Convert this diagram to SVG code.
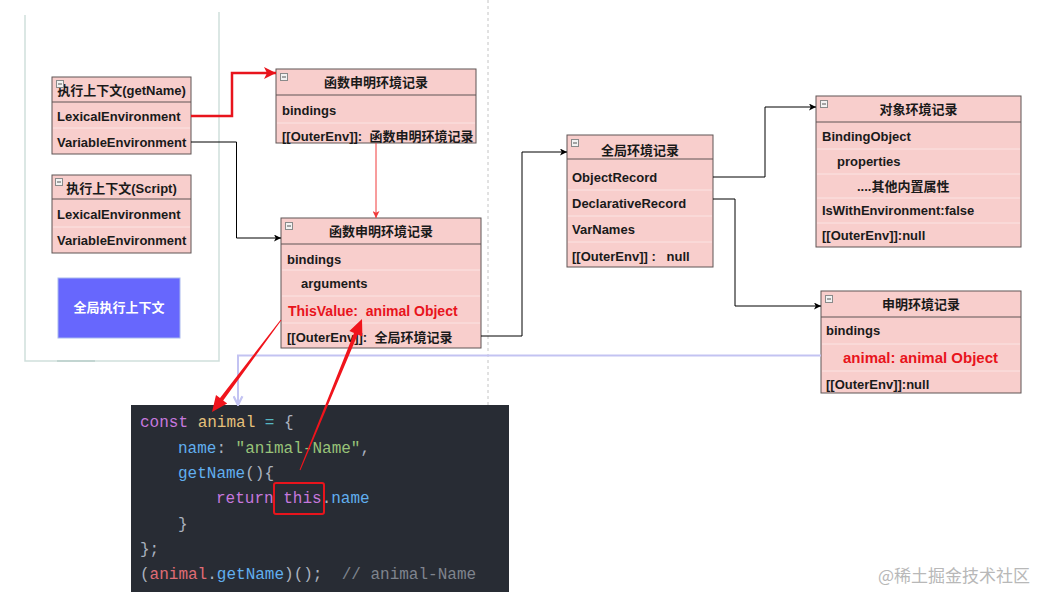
<svg xmlns="http://www.w3.org/2000/svg" width="1037" height="592" viewBox="0 0 1037 592">
<style>
.box{fill:#f8cecc;stroke:#5f5555;stroke-width:1}
.hl{stroke:#5f5555;stroke-width:1}
.sep{stroke:#fbe4e3;stroke-width:1}
.t{font-family:"Liberation Sans","Noto Sans CJK SC",sans-serif;font-size:13px;font-weight:bold;fill:#1a1a1a}
.h{text-anchor:middle}
.red{fill:#e8141c}
.ico{fill:#f2f2f2;stroke:#8a8a8a;stroke-width:1}
.icm{stroke:#555;stroke-width:1}
.code{font-family:"Liberation Mono","DejaVu Sans Mono",monospace;font-size:16px;fill:#abb2bf}
.kw{fill:#c678dd}.vr{fill:#e5c07b}.op{fill:#56b6c2}.pr{fill:#61afef}.st{fill:#98c379}.rd{fill:#e06c75}.cm{fill:#7f848e}
.bl{fill:none;stroke:#000;stroke-width:1}
</style>
<defs>
<marker id="ab" viewBox="0 0 10 10" refX="10" refY="5" markerWidth="7" markerHeight="7" markerUnits="userSpaceOnUse" orient="auto"><path d="M0,0L10,5L0,10L2.5,5Z" fill="#000"/></marker>
<marker id="ar" viewBox="0 0 10 10" refX="10" refY="5" markerWidth="12" markerHeight="12" markerUnits="userSpaceOnUse" orient="auto"><path d="M0,0L10,5L0,10L2.5,5Z" fill="#e8141c"/></marker>
<marker id="ar2" viewBox="0 0 10 10" refX="10" refY="5" markerWidth="7" markerHeight="7" markerUnits="userSpaceOnUse" orient="auto"><path d="M0,0L10,5L0,10L2.5,5Z" fill="#f03a3a"/></marker>
<marker id="al" viewBox="0 0 10 10" refX="9" refY="5" markerWidth="11" markerHeight="11" markerUnits="userSpaceOnUse" orient="auto"><path d="M1,1L9,5L1,9" fill="none" stroke="#c3c3f2" stroke-width="2"/></marker>
</defs>
<rect width="1037" height="592" fill="#fff"/>
<line x1="488" y1="0" x2="488" y2="592" stroke="#c4c4c4" stroke-width="1" stroke-dasharray="3,3"/>
<path d="M25,15V361H219V12" fill="none" stroke="#cfdfdc" stroke-width="1.5"/>
<line x1="57" y1="361" x2="95" y2="361" stroke="#c2d5d1" stroke-width="2"/>

<g id="code">
<rect x="131" y="405" width="378" height="187" fill="#282c34"/>
<text class="code" x="140" y="427" xml:space="preserve"><tspan class="kw">const</tspan> <tspan class="vr">animal</tspan> <tspan class="op">=</tspan> {</text>
<text class="code" x="178" y="453" xml:space="preserve"><tspan class="pr">name</tspan>: <tspan class="st">"animal-Name"</tspan>,</text>
<text class="code" x="178" y="478" xml:space="preserve"><tspan class="pr">getName</tspan>(){</text>
<text class="code" x="216" y="503" xml:space="preserve"><tspan class="kw">return</tspan> <tspan class="kw">this</tspan>.<tspan class="pr">name</tspan></text>
<text class="code" x="178" y="529">}</text>
<text class="code" x="140" y="554">};</text>
<text class="code" x="140" y="579" xml:space="preserve">(<tspan class="rd">animal</tspan>.<tspan class="pr">getName</tspan>)();  <tspan class="cm">// animal-Name</tspan></text>
<rect x="274" y="483" width="50" height="31" rx="2" fill="none" stroke="#e8141c" stroke-width="2"/>
</g>

<g id="ec-getName">
<rect class="box" x="52" y="77" width="139" height="77"/>
<line class="hl" x1="52" y1="102" x2="191" y2="102"/>
<line class="sep" x1="53" y1="128" x2="190" y2="128"/>
<text class="t h" x="121.5" y="94.5">执行上下文(getName)</text>
<rect class="ico" x="56.5" y="80.5" width="7" height="7"/><line class="icm" x1="58" y1="84" x2="62" y2="84"/>
<text class="t" x="57" y="120.5">LexicalEnvironment</text>
<text class="t" x="57" y="146.5">VariableEnvironment</text>
</g>

<g id="ec-script">
<rect class="box" x="52" y="175" width="139" height="78"/>
<line class="hl" x1="52" y1="199" x2="191" y2="199"/>
<line class="sep" x1="53" y1="227" x2="190" y2="227"/>
<text class="t h" x="121.5" y="192.5">执行上下文(Script)</text>
<rect class="ico" x="55.5" y="178.5" width="7" height="7"/><line class="icm" x1="57" y1="182" x2="61" y2="182"/>
<text class="t" x="57" y="218.5">LexicalEnvironment</text>
<text class="t" x="57" y="244.5">VariableEnvironment</text>
</g>

<g id="global-ec">
<rect x="58" y="278" width="122" height="60" fill="#6767fd" stroke="#a9b9ee" stroke-width="1"/>
<text class="t h" x="119" y="311.5" style="fill:#fff">全局执行上下文</text>
</g>

<g id="fn-decl-record">
<rect class="box" x="276" y="69" width="200" height="74"/>
<line class="hl" x1="276" y1="95" x2="476" y2="95"/>
<line class="sep" x1="277" y1="123" x2="475" y2="123"/>
<rect class="ico" x="280.5" y="73.5" width="7" height="7"/><line class="icm" x1="282" y1="77" x2="286" y2="77"/>
<text class="t h" x="376" y="87">函数申明环境记录</text>
<text class="t" x="282" y="115">bindings</text>
<text class="t" x="282" y="140.5" xml:space="preserve">[[OuterEnv]]:  函数申明环境记录</text>
</g>

<g id="fn-env-record">
<rect class="box" x="281" y="218" width="200" height="130"/>
<line class="hl" x1="281" y1="244" x2="481" y2="244"/>
<line class="sep" x1="282" y1="270" x2="480" y2="270"/>
<line class="sep" x1="282" y1="296" x2="480" y2="296"/>
<line class="sep" x1="282" y1="323" x2="480" y2="323"/>
<rect class="ico" x="285.5" y="222.5" width="7" height="7"/><line class="icm" x1="287" y1="226" x2="291" y2="226"/>
<text class="t h" x="381" y="236">函数申明环境记录</text>
<text class="t" x="287" y="263.5">bindings</text>
<text class="t" x="301" y="288">arguments</text>
<text class="t red" x="288" y="316" style="font-size:14px" xml:space="preserve">ThisValue:  animal Object</text>
<text class="t" x="287" y="341.5" xml:space="preserve">[[OuterEnv]]:  全局环境记录</text>
</g>

<g id="global-env-record">
<rect class="box" x="567" y="135" width="146" height="132"/>
<line class="hl" x1="567" y1="159" x2="713" y2="159"/>
<line class="sep" x1="568" y1="190" x2="712" y2="190"/>
<line class="sep" x1="568" y1="216" x2="712" y2="216"/>
<line class="sep" x1="568" y1="242" x2="712" y2="242"/>
<rect class="ico" x="571.5" y="139.5" width="7" height="7"/><line class="icm" x1="573" y1="143" x2="577" y2="143"/>
<text class="t h" x="640" y="155">全局环境记录</text>
<text class="t" x="572" y="182">ObjectRecord</text>
<text class="t" x="572" y="208">DeclarativeRecord</text>
<text class="t" x="572" y="234">VarNames</text>
<text class="t" x="572" y="261" xml:space="preserve">[[OuterEnv]] :   null</text>
</g>

<g id="object-env-record">
<rect class="box" x="816" y="96" width="205" height="151"/>
<line class="hl" x1="816" y1="122" x2="1021" y2="122"/>
<line class="sep" x1="817" y1="149" x2="1020" y2="149"/>
<line class="sep" x1="817" y1="174" x2="1020" y2="174"/>
<line class="sep" x1="817" y1="198" x2="1020" y2="198"/>
<line class="sep" x1="817" y1="223" x2="1020" y2="223"/>
<rect class="ico" x="820.5" y="100.5" width="7" height="7"/><line class="icm" x1="822" y1="104" x2="826" y2="104"/>
<text class="t h" x="918.5" y="113.5">对象环境记录</text>
<text class="t" x="822" y="141">BindingObject</text>
<text class="t" x="837" y="165.5">properties</text>
<text class="t" x="857" y="190.5">....其他内置属性</text>
<text class="t" x="822" y="214.5">IsWithEnvironment:false</text>
<text class="t" x="822" y="240">[[OuterEnv]]:null</text>
</g>

<g id="declarative-env-record">
<rect class="box" x="821" y="291" width="200" height="102"/>
<line class="hl" x1="821" y1="317" x2="1021" y2="317"/>
<line class="sep" x1="822" y1="344" x2="1020" y2="344"/>
<line class="sep" x1="822" y1="371" x2="1020" y2="371"/>
<rect class="ico" x="825.5" y="295.5" width="7" height="7"/><line class="icm" x1="827" y1="299" x2="831" y2="299"/>
<text class="t h" x="921" y="308.5">申明环境记录</text>
<text class="t" x="826" y="335">bindings</text>
<text class="t red" x="843" y="363" style="font-size:15px">animal: animal Object</text>
<text class="t" x="826" y="388.5">[[OuterEnv]]:null</text>
</g>

<g id="connectors">
<path d="M191,116H232V73H276" fill="none" stroke="#e8141c" stroke-width="2.5" marker-end="url(#ar)"/>
<path class="bl" d="M191,142H236.5V238H281" marker-end="url(#ab)"/>
<path d="M376,143V218" fill="none" stroke="#f03a3a" stroke-width="1" marker-end="url(#ar2)"/>
<path class="bl" d="M481,336H522V152H567" marker-end="url(#ab)"/>
<path class="bl" d="M713,177H765V107H816" marker-end="url(#ab)"/>
<path class="bl" d="M713,199H735V306H821" marker-end="url(#ab)"/>
<path d="M821,355.5H238V405" fill="none" stroke="#c3c3f2" stroke-width="2" marker-end="url(#al)"/>
<polygon points="281.4,320.3 223.2,400.4 227.2,403.4 212,412 216,395 220,398 280.6,319.7" fill="#f0141c"/>
<polygon points="300.46,470.19 357.75,334.56 362.4,336.5 362,319 349.4,331.1 354.05,333.04 299.54,469.81" fill="#f0141c"/>
</g>

<text x="1030" y="582" text-anchor="end" style="font-family:'Noto Sans CJK SC',sans-serif;font-size:17px;fill:#b8b8b8">@稀土掘金技术社区</text>
</svg>
